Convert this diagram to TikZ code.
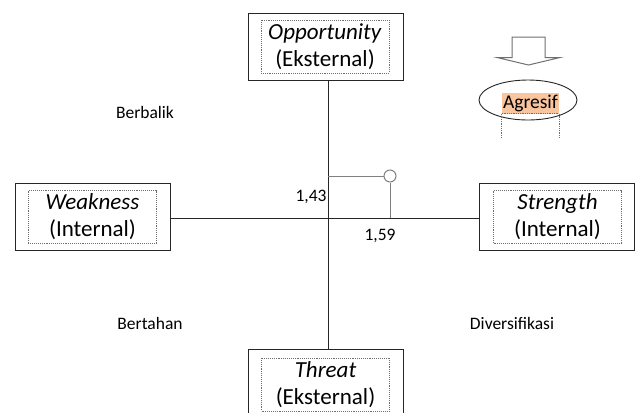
\documentclass[tikz,border=0pt]{standalone}
\usepackage{fontspec}
\setmainfont{Carlito}
\usetikzlibrary{shapes.geometric}
\definecolor{boxline}{HTML}{262626}
\definecolor{dotline}{HTML}{6F6F6F}
\definecolor{markgrey}{HTML}{808080}
\definecolor{orangefill}{HTML}{F9C59E}
\begin{document}
\begin{tikzpicture}[x=1bp,y=-1bp,
  outerbox/.style={draw=boxline,line width=0.9bp,minimum width=155bp,minimum height=67bp,inner sep=0pt},
  innerbox/.style={draw=dotline,densely dotted,line width=0.9bp,minimum width=128bp,minimum height=53bp,inner sep=0pt,align=center,font=\fontsize{23bp}{27bp}\selectfont},
  lbl/.style={font=\fontsize{17.5bp}{21bp}\selectfont,inner sep=0pt},
  axis/.style={draw=boxline,line width=0.9bp},
  marker/.style={draw=markgrey,line width=1bp}]
\useasboundingbox (0,0) rectangle (635,412);
% boxes
\node[outerbox] (opp) at (325.5,46.5) {};
\node[innerbox] (oppt) at (325,46.5) {\textit{Opportunity}\\(Eksternal)};
\node[outerbox] (weak) at (92.5,216.5) {};
\node[innerbox] (weakt) at (92.5,217) {\textit{Weakness}\\(Internal)};
\node[outerbox] (str) at (557,216.5) {};
\node[innerbox] (strt) at (557.5,217) {\textit{Strength}\\(Internal)};
\node[outerbox] (thr) at (326,382.5) {};
\node[innerbox] (thrt) at (325.5,384.5) {\textit{Threat}\\(Eksternal)};
% axes
\coordinate (ax) at (328,218);
\draw[axis] (opp.south -| ax) -- (thr.north -| ax);
\draw[axis] (weak.east |- ax) -- (str.west |- ax);
% marker
\node[circle,draw=markgrey,line width=1bp,fill=white,minimum size=12bp,inner sep=0pt] (pt) at (390,176) {};
\coordinate (ptax) at (390,218);
\draw[marker] (ax |- pt) -- (pt.west);
\draw[marker] (pt.south) -- (ptax);
\node[lbl] (v1) at (311,197) {1,43};
\node[lbl] (v2) at (380,236) {1,59};
% quadrant labels
\node[lbl] (q1) at (145,112) {Berbalik};
\node[lbl] (q2) at (150,323) {Bertahan};
\node[lbl] (q3) at (512,323) {Diversifikasi};
% arrow
\draw[draw=dotline,fill=white,line width=1bp,line join=miter]
  (512,37) -- (545,37) -- (545,57.5) -- (560,57.5) -- (528.5,65) -- (497,57.5) -- (512,57.5) -- cycle;
% ellipse
\node[ellipse,draw=boxline,line width=0.9bp,minimum width=98bp,minimum height=40bp,inner sep=0pt] (ell) at (528,100) {};
\node[fill=orangefill,minimum width=57bp,minimum height=21bp,inner sep=0pt,font=\fontsize{19.5bp}{22bp}\selectfont] (agr) at (530.5,103) {Agresif};
\draw[dotline,densely dotted,line width=0.8bp] (agr.south west) -- (agr.south east);
\draw[dotline,densely dotted,line width=0.8bp] (agr.south west) -- ++(0,24);
\draw[dotline,densely dotted,line width=0.8bp] (agr.south east) -- ++(0,24);
\end{tikzpicture}
\end{document}
